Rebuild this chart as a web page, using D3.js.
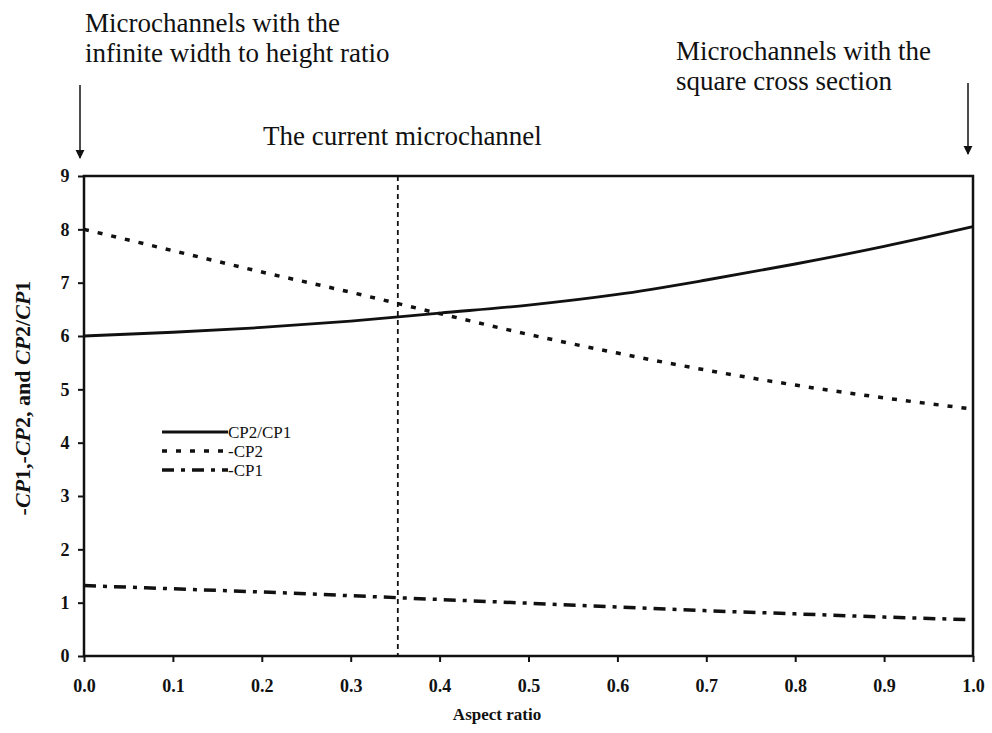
<!DOCTYPE html>
<html>
<head>
<meta charset="utf-8">
<script src="https://cdn.jsdelivr.net/npm/d3@7"></script>
<style>
  body { margin: 0; background: #fff; }
  text { font-family: "Liberation Serif", "Times New Roman", serif; fill: #111; }
</style>
</head>
<body>
<script>
// aspect ratio values
var aspect = [0, 0.1, 0.2, 0.3, 0.4, 0.5, 0.6, 0.7, 0.8, 0.9, 1.0];
var cp2cp1 = [6.0, 6.07, 6.16, 6.28, 6.43, 6.58, 6.78, 7.05, 7.35, 7.68, 8.05];
var negCp2 = [8.0, 7.6, 7.2, 6.82, 6.42, 6.03, 5.68, 5.36, 5.08, 4.84, 4.63];
var negCp1 = [1.32, 1.26, 1.2, 1.13, 1.06, 0.99, 0.92, 0.85, 0.79, 0.73, 0.68];
var currentChannel = 0.353;
var xTicks = [0, 0.1, 0.2, 0.3, 0.4, 0.5, 0.6, 0.7, 0.8, 0.9, 1.0];
var yTicks = [0, 1, 2, 3, 4, 5, 6, 7, 8, 9];

var w = 992, h = 733;
var mLeft = 84, mRight = 973, mTop = 176, mBottom = 656;

var svg = d3.select("body").append("svg")
    .attr("width", w)
    .attr("height", h);

var x = d3.scaleLinear().domain([0, 1]).range([mLeft, mRight]);
var y = d3.scaleLinear().domain([0, 9]).range([mBottom, mTop]);

// axes
var xAxis = svg.append("g")
    .attr("transform", "translate(0," + mBottom + ")")
    .call(d3.axisBottom(x).tickValues(xTicks).tickSize(6).tickFormat(d3.format(".1f")));
var yAxis = svg.append("g")
    .attr("transform", "translate(" + mLeft + ",0)")
    .call(d3.axisLeft(y).tickValues(yTicks).tickSize(6));

[xAxis, yAxis].forEach(function(g) {
    g.select(".domain").remove();
    g.selectAll("line").attr("stroke", "#111").attr("stroke-width", 2);
    g.selectAll("text")
        .style("font-family", "'Liberation Serif', serif")
        .style("font-weight", "bold")
        .style("font-size", "18px")
        .attr("fill", "#111");
});
xAxis.selectAll("text").attr("dy", "1.5em");
yAxis.selectAll("text").attr("dx", "-0.3em");

// frame
svg.append("rect")
    .attr("x", mLeft).attr("y", mTop)
    .attr("width", mRight - mLeft).attr("height", mBottom - mTop)
    .attr("fill", "none")
    .attr("stroke", "#111")
    .attr("stroke-width", 2.5);

// current microchannel marker
svg.append("line")
    .attr("x1", x(currentChannel)).attr("x2", x(currentChannel))
    .attr("y1", y(9)).attr("y2", y(0))
    .attr("stroke", "#111")
    .attr("stroke-width", 1.8)
    .attr("stroke-dasharray", "5,4");

var series = [
    {name: "CP2/CP1", values: cp2cp1, dash: null, width: 2.8},
    {name: "-CP2", values: negCp2, dash: "5,9", width: 3.5},
    {name: "-CP1", values: negCp1, dash: "12,7,4,7", width: 3.5}
];

var line = d3.line()
    .x(function(d) { return x(d[0]); })
    .y(function(d) { return y(d[1]); })
    .curve(d3.curveMonotoneX);

series.forEach(function(s) {
    svg.append("path")
        .datum(aspect.map(function(a, i) { return [a, s.values[i]]; }))
        .attr("d", line)
        .attr("fill", "none")
        .attr("stroke", "#111")
        .attr("stroke-width", s.width)
        .attr("stroke-dasharray", s.dash);
});

// legend
var legend = svg.append("g").attr("transform", "translate(162,432)");
series.forEach(function(s, i) {
    var ly = i * 19;
    legend.append("line")
        .attr("x1", 0).attr("x2", 66)
        .attr("y1", ly).attr("y2", ly)
        .attr("stroke", "#111")
        .attr("stroke-width", s.width)
        .attr("stroke-dasharray", s.dash);
    legend.append("text")
        .attr("x", 66).attr("y", ly + 6)
        .style("font-size", "17px")
        .text(s.name);
});

// axis titles
svg.append("text")
    .attr("x", 497)
    .attr("y", 720)
    .attr("text-anchor", "middle")
    .style("font-size", "17px")
    .style("font-weight", "bold")
    .text("Aspect ratio");

var yt = svg.append("text")
    .attr("transform", "translate(30,398) rotate(-90)")
    .attr("text-anchor", "middle")
    .style("font-size", "22px")
    .style("font-weight", "bold");
yt.append("tspan").text("-");
yt.append("tspan").style("font-style", "italic").text("CP");
yt.append("tspan").text("1,-");
yt.append("tspan").style("font-style", "italic").text("CP");
yt.append("tspan").text("2, and ");
yt.append("tspan").style("font-style", "italic").text("CP");
yt.append("tspan").text("2/");
yt.append("tspan").style("font-style", "italic").text("CP");
yt.append("tspan").text("1");

// annotations above the chart
var notes = [
    {x: 85, y: 32, lines: ["Microchannels with the", "infinite width to height ratio"]},
    {x: 676, y: 60, lines: ["Microchannels with the", "square cross section"]},
    {x: 263, y: 145, lines: ["The current microchannel"]}
];
notes.forEach(function(n) {
    n.lines.forEach(function(t, i) {
        svg.append("text")
            .attr("x", n.x)
            .attr("y", n.y + i * 30)
            .style("font-size", "27px")
            .text(t);
    });
});

svg.append("defs").append("marker")
    .attr("id", "head")
    .attr("viewBox", "0 0 10 10")
    .attr("refX", 9).attr("refY", 5)
    .attr("markerWidth", 6).attr("markerHeight", 7)
    .attr("orient", "auto")
    .append("path")
    .attr("d", "M0,0L10,5L0,10Z")
    .attr("fill", "#111");

[[x(0) - 4, 85, 158], [x(1) - 5, 83, 154]].forEach(function(a) {
    svg.append("line")
        .attr("x1", a[0]).attr("x2", a[0])
        .attr("y1", a[1]).attr("y2", a[2])
        .attr("stroke", "#111")
        .attr("stroke-width", 1.5)
        .attr("marker-end", "url(#head)");
});
</script>
</body>
</html>
